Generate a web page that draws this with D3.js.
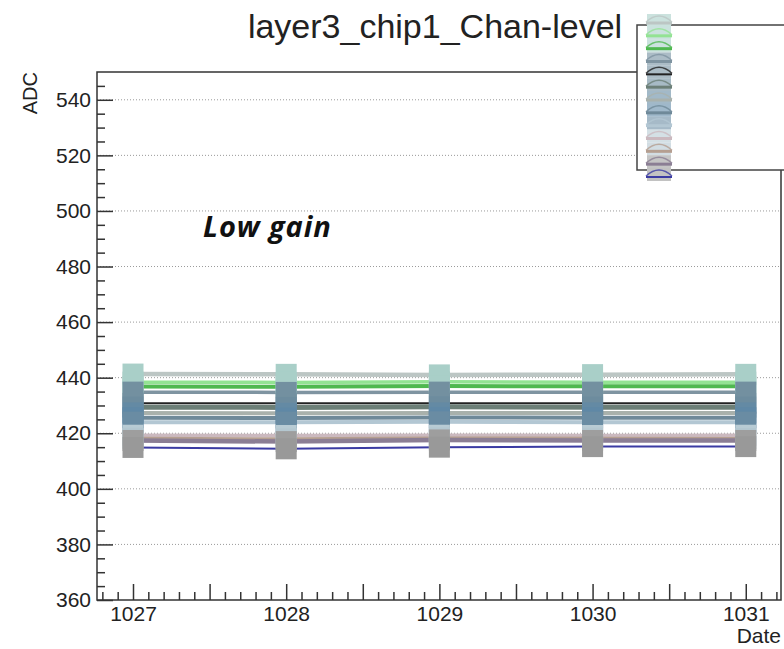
<!DOCTYPE html>
<html>
<head>
<meta charset="utf-8">
<script src="https://cdn.jsdelivr.net/npm/d3@7"></script>
<style>
  body { margin: 0; background: #fff; }
  svg { font-family: 'Liberation Sans', Arial, sans-serif; }
</style>
</head>
<body>
<svg width="784" height="649"></svg>
<script>
// dates on the x axis
const dates = [1027, 1028, 1029, 1030, 1031];

// one row per channel (ADC at each date)
const channelNames = ['ch0', 'ch1', 'ch2', 'ch3', 'ch4', 'ch5', 'ch6',
  'ch7', 'ch8', 'ch9', 'ch10', 'ch11', 'ch12'];
const channelValues = [
  [441.3, 441.2, 441.0, 441.1, 441.2],
  [438.4, 438.3, 438.5, 438.4, 438.4],
  [436.8, 436.7, 437.0, 436.9, 436.9],
  [434.8, 434.7, 434.8, 434.8, 434.8],
  [430.8, 430.8, 430.8, 430.8, 430.8],
  [429.4, 429.3, 429.5, 429.4, 429.4],
  [427.3, 427.2, 427.3, 427.3, 427.3],
  [425.6, 425.5, 425.7, 425.6, 425.6],
  [424.0, 424.0, 424.1, 424.0, 424.0],
  [419.3, 419.2, 419.3, 419.2, 419.3],
  [418.2, 418.0, 418.3, 418.2, 418.1],
  [417.4, 417.0, 417.6, 417.4, 417.4],
  [414.9, 414.4, 415.0, 415.2, 415.2]
];
const lineColors = ['#bcc6c4', '#93e393', '#4fb84f', '#7f94a1', '#222222',
  '#6c7f77', '#a9b1ac', '#6f8999', '#b3c7d3', '#cbb9bf', '#b59f91',
  '#8b7e94', '#3b3ba3'];
const lineWidths = [4.5, 3.5, 4, 3.5, 2, 5, 4, 4, 4, 3.5, 3, 4.5, 2];
const markerColors = ['#a9cfc8', '#a9cfc8', '#a9cfc8', '#7390a0', '#7390a0',
  '#6d8c9e', '#648aa4', '#5f88a6', '#6a8ca3', '#b8cbd4', '#b4c7d0',
  '#9e9e9e', '#999999'];

const yTickLabels = [360, 380, 400, 420, 440, 460, 480, 500, 520, 540];
const xTickLabels = [1027, 1028, 1029, 1030, 1031];

const svg = d3.select('svg');
const frame = { left: 97, right: 781, top: 72, bottom: 600 };

const xScale = d3.scaleLinear()
  .domain([1026.765, 1031.23])
  .range([frame.left, frame.right]);
const yScale = d3.scaleLinear()
  .domain([360, 550])
  .range([frame.bottom, frame.top]);

// dotted grid
svg.append('g')
  .selectAll('line')
  .data(yTickLabels.filter(v => v > 360))
  .enter()
  .append('line')
    .attr('x1', frame.left)
    .attr('x2', frame.right)
    .attr('y1', d => yScale(d))
    .attr('y2', d => yScale(d))
    .attr('stroke', '#9a9a9a')
    .attr('stroke-width', 1)
    .attr('stroke-dasharray', '1,2');

// channel lines
const lineGen = d3.line()
  .x((d, i) => xScale(dates[i]))
  .y(d => yScale(d));
svg.append('g')
  .selectAll('path')
  .data(channelValues)
  .enter()
  .append('path')
    .attr('d', lineGen)
    .attr('fill', 'none')
    .attr('stroke', (d, i) => lineColors[i])
    .attr('stroke-width', (d, i) => lineWidths[i]);

// square markers, drawn over all lines
const markerSize = 21;
const markerGroup = svg.append('g');
channelValues.forEach((row, s) => {
  markerGroup.selectAll(null)
    .data(row)
    .enter()
    .append('rect')
      .attr('x', (d, i) => xScale(dates[i]) - markerSize / 2)
      .attr('y', d => yScale(d) - markerSize / 2)
      .attr('width', markerSize)
      .attr('height', markerSize)
      .attr('fill', markerColors[s]);
});

// frame
svg.append('rect')
  .attr('x', frame.left)
  .attr('y', frame.top)
  .attr('width', frame.right - frame.left)
  .attr('height', frame.bottom - frame.top)
  .attr('fill', 'none')
  .attr('stroke', '#333')
  .attr('stroke-width', 1.5);

// y axis
const yMinor = d3.range(365, 550, 5).filter(v => v % 20 !== 0);
svg.append('g')
  .attr('transform', `translate(${frame.left},0)`)
  .call(d3.axisLeft(yScale).tickValues(yTickLabels).tickSize(-16).tickPadding(6));
svg.append('g')
  .attr('transform', `translate(${frame.left},0)`)
  .call(d3.axisLeft(yScale).tickValues(yMinor).tickSize(-8).tickFormat(''));

// x axis
const xMajor = d3.range(1027, 1031.3, 0.5);
const xMinor = d3.range(1026.8, 1031.25, 0.1).filter(v => Math.abs(v * 2 - Math.round(v * 2)) > 0.01);
svg.append('g')
  .attr('transform', `translate(0,${frame.bottom})`)
  .call(d3.axisBottom(xScale).tickValues(xMajor).tickSize(-16).tickPadding(6)
    .tickFormat(d => xTickLabels.includes(d) ? d3.format('d')(d) : ''));
svg.append('g')
  .attr('transform', `translate(0,${frame.bottom})`)
  .call(d3.axisBottom(xScale).tickValues(xMinor).tickSize(-8).tickFormat(''));

svg.selectAll('.domain').remove();
svg.selectAll('.tick line').attr('stroke', '#333').attr('stroke-width', 1.5);
svg.selectAll('.tick text')
  .attr('fill', '#222')
  .style('font-size', '21px')
  .style('font-family', "'Liberation Sans', Arial, sans-serif");

// axis titles
svg.append('text')
  .text('Date')
  .attr('x', frame.right)
  .attr('y', 643)
  .attr('text-anchor', 'end')
  .attr('fill', '#222')
  .style('font-size', '21px');
svg.append('text')
  .text('ADC')
  .attr('transform', 'translate(37,72) rotate(-90)')
  .attr('text-anchor', 'end')
  .attr('fill', '#222')
  .style('font-size', '20px');

// title
svg.append('text')
  .text('layer3_chip1_Chan-level')
  .attr('x', 435)
  .attr('y', 38)
  .attr('text-anchor', 'middle')
  .attr('fill', '#222')
  .style('font-size', '34px');

// annotation
svg.append('text')
  .text('Low gain')
  .attr('x', 203)
  .attr('y', 237)
  .attr('fill', '#111')
  .style('font-family', "'Open Sans', sans-serif")
  .style('font-weight', 'bold')
  .style('font-style', 'italic')
  .style('letter-spacing', '0.9px')
  .style('font-size', '29px');

// legend (squeezed entries, only markers visible)
const legendBox = svg.append('g');
legendBox.append('rect')
  .attr('x', 637)
  .attr('y', 25)
  .attr('width', 200)
  .attr('height', 145)
  .attr('fill', '#fff')
  .attr('stroke', '#444')
  .attr('stroke-width', 1.5);
const legendY = d3.scalePoint()
  .domain(channelNames)
  .range([20, 174]);
const entries = legendBox.selectAll('g.entry')
  .data(channelNames)
  .enter()
  .append('g')
    .attr('class', 'entry')
    .attr('transform', d => `translate(659,${legendY(d)})`);
entries.append('rect')
  .attr('x', -12)
  .attr('y', -6)
  .attr('width', 24)
  .attr('height', 13)
  .attr('fill', (d, i) => d3.interpolateRgb(markerColors[i], '#fff')(0.4));
entries.append('path')
  .attr('d', 'M-13,2 Q0,-10 13,2')
  .attr('fill', 'none')
  .attr('stroke', (d, i) => lineColors[i])
  .attr('stroke-width', 1.5)
  .attr('opacity', 0.8);
entries.append('line')
  .attr('x1', -13)
  .attr('x2', 13)
  .attr('y1', 3)
  .attr('y2', 3)
  .attr('stroke', (d, i) => lineColors[i])
  .attr('stroke-width', (d, i) => Math.min(lineWidths[i], 3));
</script>
</body>
</html>
